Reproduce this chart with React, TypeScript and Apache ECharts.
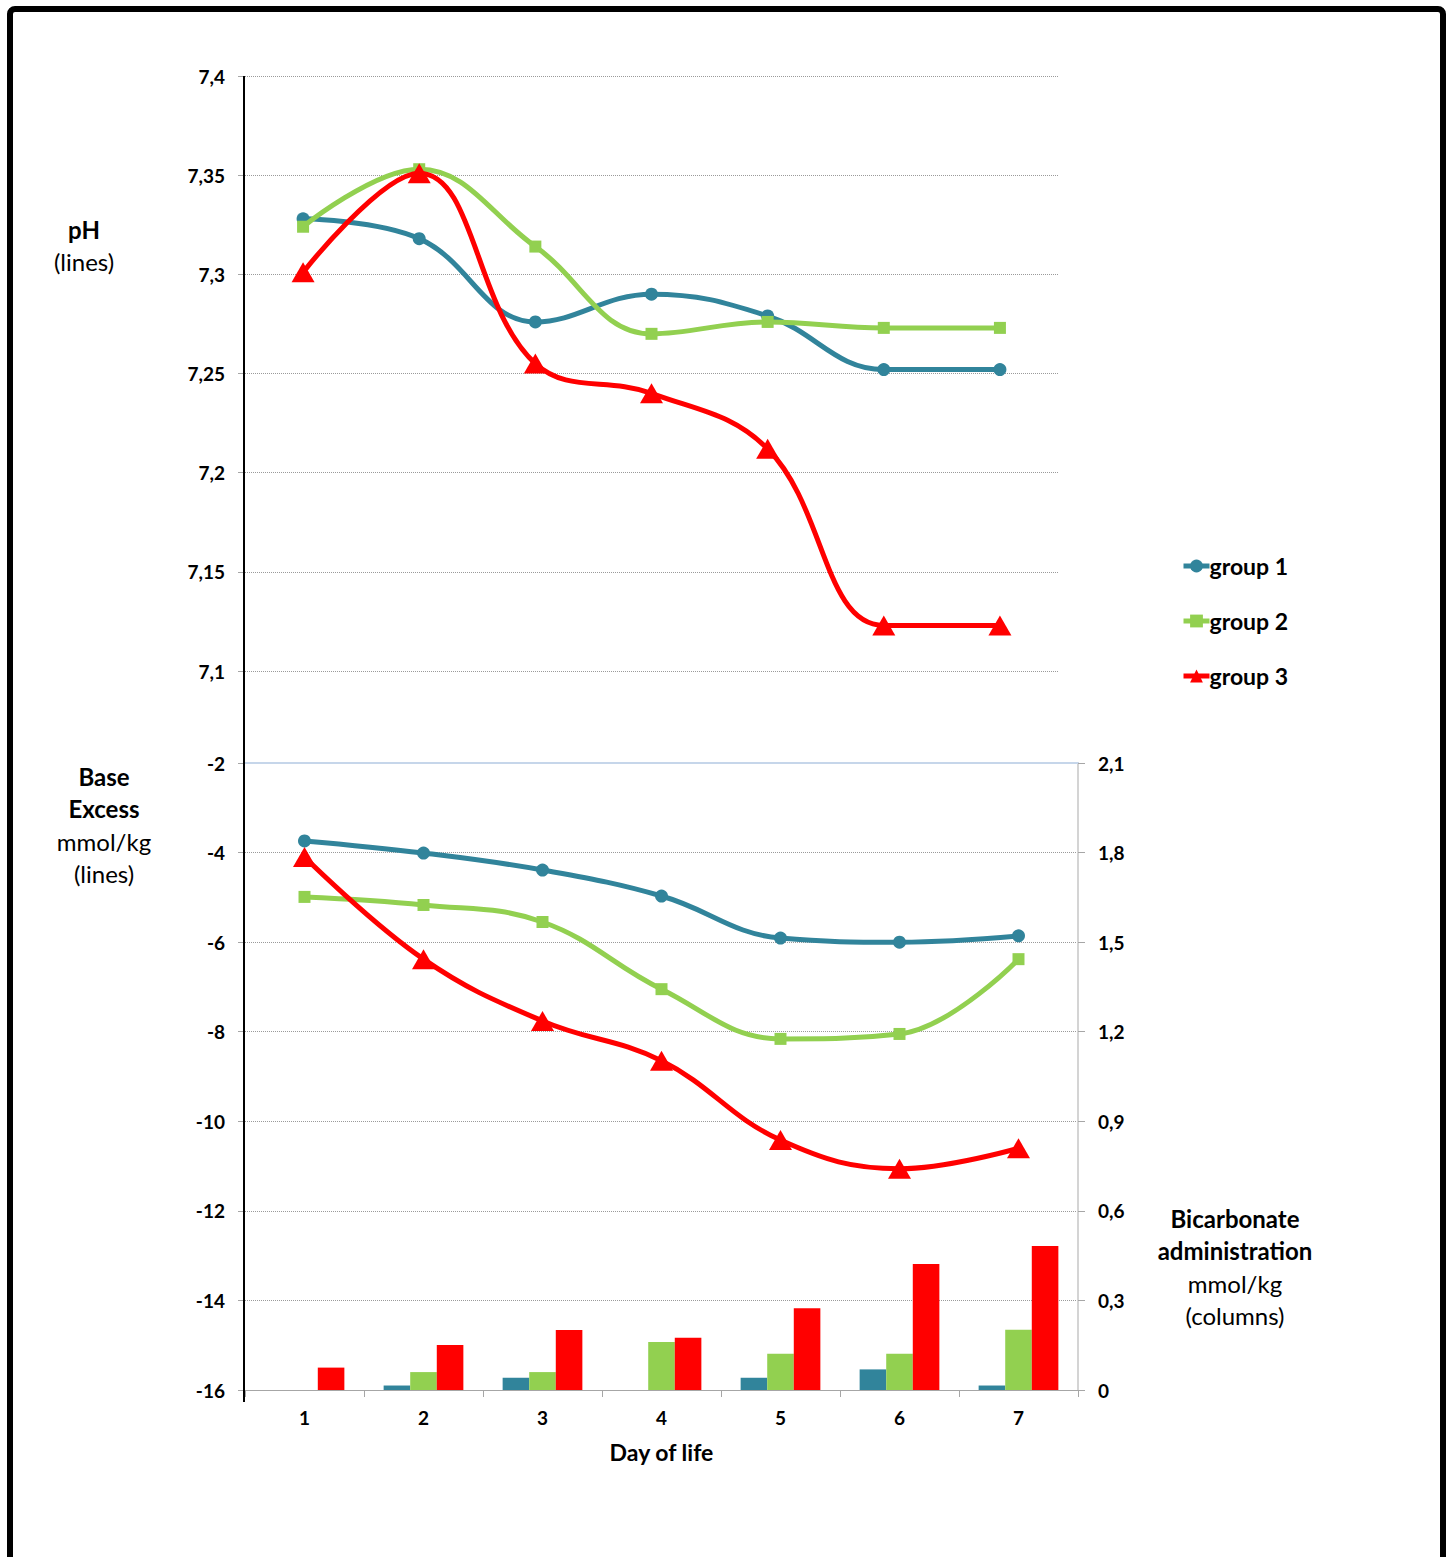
import React, { useEffect, useRef } from "react";
import * as echarts from "echarts";

const days = ["1", "2", "3", "4", "5", "6", "7"];
const groupNames = ["group 1", "group 2", "group 3"];
const groupColors = ["#31849B", "#92D050", "#FF0000"];

const phG1 = [7.328, 7.318, 7.276, 7.29, 7.279, 7.252, 7.252];
const phG2 = [7.324, 7.353, 7.314, 7.27, 7.276, 7.273, 7.273];
const phG3 = [7.301, 7.351, 7.255, 7.24, 7.212, 7.123, 7.123];

const beG1 = [-3.74, -4.01, -4.39, -4.97, -5.91, -6.0, -5.86];
const beG2 = [-4.99, -5.17, -5.55, -7.05, -8.16, -8.05, -6.38];
const beG3 = [-4.1, -6.38, -7.76, -8.65, -10.42, -11.06, -10.6];

const bicG1 = [0, 0.015, 0.041, 0, 0.041, 0.069, 0.015];
const bicG2 = [0, 0.06, 0.06, 0.161, 0.121, 0.121, 0.202];
const bicG3 = [0.075, 0.151, 0.201, 0.175, 0.274, 0.422, 0.482];

const FONT = "Lato";

const fmt = (v: number) => String(+Number(v).toFixed(2)).replace(".", ",");

const tickStyle = { show: true, length: 7, lineStyle: { color: "#A6A6A6", width: 1 } };
const splitStyle = { show: true, lineStyle: { color: "#9A9A9A", type: "dotted" as const, width: 1 } };
const labelStyle = { color: "#000", fontFamily: FONT, fontWeight: "bold" as const, fontSize: 19 };

function textEl(text: string, x: number, y: number, bold: boolean) {
  return {
    type: "text",
    x,
    y,
    silent: true,
    style: {
      text,
      fill: "#000",
      fontFamily: FONT,
      fontSize: 24,
      fontWeight: bold ? "bold" : "normal",
      textAlign: "center",
      textVerticalAlign: "middle",
    },
  };
}

export default function App() {
  const ref = useRef<HTMLDivElement>(null);
  useEffect(() => {
    const chart = echarts.init(ref.current!, null, { renderer: "svg", width: 1450, height: 1557 });
    const symbols = ["circle", "rect", "triangle"];
    const symbolSizes: any[] = [13, 12, [23, 20]];
    const phData = [phG1, phG2, phG3];
    const beData = [beG1, beG2, beG3];
    const bicData = [bicG1, bicG2, bicG3];

    const series: any[] = [];
    groupNames.forEach((name, i) => {
      series.push({
        name,
        type: "line",
        xAxisIndex: 0,
        yAxisIndex: 0,
        data: phData[i],
        smooth: 0.4,
        symbol: symbols[i],
        symbolSize: symbolSizes[i],
        showAllSymbol: true,
        itemStyle: { color: groupColors[i] },
        lineStyle: { color: groupColors[i], width: 5 },
        z: 10 + i,
      });
    });
    groupNames.forEach((name, i) => {
      series.push({
        name,
        type: "bar",
        xAxisIndex: 1,
        yAxisIndex: 2,
        data: bicData[i],
        barGap: "0%",
        barCategoryGap: "33%",
        itemStyle: { color: groupColors[i] },
        z: 2,
      });
    });
    groupNames.forEach((name, i) => {
      series.push({
        name,
        type: "line",
        xAxisIndex: 1,
        yAxisIndex: 1,
        data: beData[i],
        smooth: 0.4,
        symbol: symbols[i],
        symbolSize: symbolSizes[i],
        showAllSymbol: true,
        itemStyle: { color: groupColors[i] },
        lineStyle: { color: groupColors[i], width: 5 },
        z: 10 + i,
      });
    });

    const option: any = {
      animation: false,
      backgroundColor: "#fff",
      textStyle: { fontFamily: FONT },
      grid: [
        { left: 245, top: 76, width: 813, height: 595 },
        { left: 245, top: 763, width: 833, height: 627 },
      ],
      legend: {
        data: groupNames,
        orient: "vertical",
        left: 1181,
        top: 554,
        padding: 0,
        itemWidth: 26,
        itemHeight: 16,
        itemGap: 31,
        selectedMode: false,
        lineStyle: { width: 5 },
        textStyle: { color: "#000", fontFamily: FONT, fontWeight: "bold", fontSize: 23, lineHeight: 24, padding: [0, 0, 0, -5] },
      },
      xAxis: [
        {
          type: "category",
          gridIndex: 0,
          data: days,
          show: false,
        },
        {
          type: "category",
          gridIndex: 1,
          data: days,
          position: "bottom",
          axisLine: { show: true, onZero: false, lineStyle: { color: "#A6A6A6", width: 1 } },
          axisTick: { show: true, length: 7, alignWithLabel: false, lineStyle: { color: "#A6A6A6" } },
          axisLabel: { ...labelStyle, margin: 18 },
          name: "Day of life",
          nameLocation: "middle",
          nameGap: 50,
          nameTextStyle: { color: "#000", fontFamily: FONT, fontWeight: "bold", fontSize: 23 },
        },
        {
          type: "category",
          gridIndex: 1,
          data: days,
          position: "top",
          axisLine: { show: true, onZero: false, lineStyle: { color: "#C6D6EA", width: 2 } },
          axisTick: { show: false },
          axisLabel: { show: false },
          splitLine: { show: false },
        },
      ],
      yAxis: [
        {
          type: "value",
          gridIndex: 0,
          min: 7.1,
          max: 7.4,
          interval: 0.05,
          axisLine: { show: false },
          axisTick: tickStyle,
          splitLine: splitStyle,
          axisLabel: { ...labelStyle, margin: 20, formatter: fmt },
        },
        {
          type: "value",
          gridIndex: 1,
          position: "left",
          min: -16,
          max: -2,
          interval: 2,
          axisLine: { show: false },
          axisTick: tickStyle,
          splitLine: splitStyle,
          axisLabel: { ...labelStyle, margin: 20, formatter: fmt },
        },
        {
          type: "value",
          gridIndex: 1,
          position: "right",
          min: 0,
          max: 2.1,
          interval: 0.3,
          axisLine: { show: true, lineStyle: { color: "#D4D4D4", width: 2 } },
          axisTick: tickStyle,
          splitLine: { show: false },
          axisLabel: { ...labelStyle, margin: 20, formatter: fmt },
        },
      ],
      graphic: [
        {
          type: "rect",
          silent: true,
          shape: { x: 10, y: 9, width: 1433, height: 1700, r: 5 },
          style: { fill: "none", stroke: "#000", lineWidth: 6 },
          z: 100,
        },
        {
          type: "line",
          silent: true,
          shape: { x1: 244, y1: 76, x2: 244, y2: 1402 },
          style: { stroke: "#000", lineWidth: 2 },
          z: 50,
        },
        textEl("pH", 84, 229, true),
        textEl("(lines)", 84, 261, false),
        textEl("Base", 104, 776, true),
        textEl("Excess", 104, 808, true),
        textEl("mmol/kg", 104, 841, false),
        textEl("(lines)", 104, 873, false),
        textEl("Bicarbonate", 1235, 1218, true),
        textEl("administration", 1235, 1250, true),
        textEl("mmol/kg", 1235, 1283, false),
        textEl("(columns)", 1235, 1315, false),
      ],
      series,
    };
    chart.setOption(option);
    return () => chart.dispose();
  }, []);
  return (
    <div
      ref={ref}
      style={{ position: "absolute", left: 0, top: 0, width: 1450, height: 1557, background: "#fff" }}
    />
  );
}
